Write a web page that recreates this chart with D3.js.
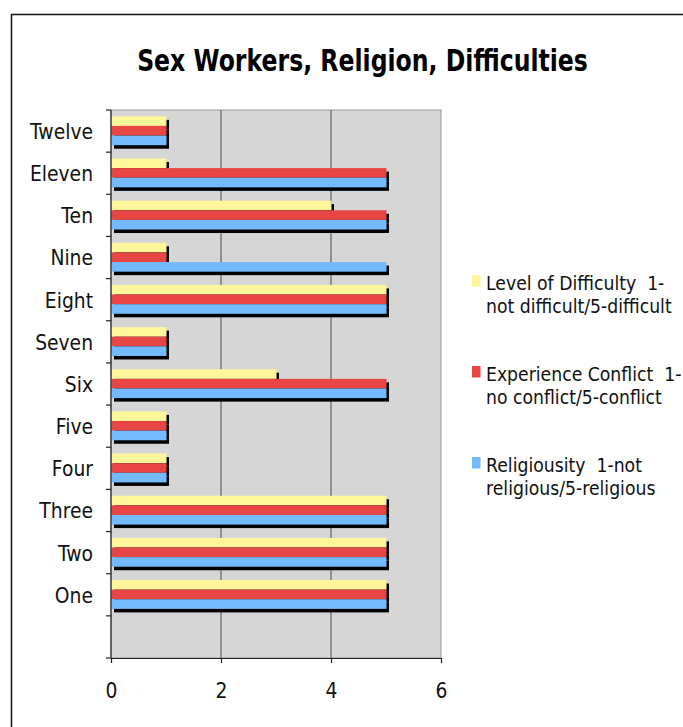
<!DOCTYPE html>
<html>
<head>
<meta charset="utf-8">
<script src="https://cdn.jsdelivr.net/npm/d3@7.9.0/dist/d3.min.js"></script>
<style>
  body { margin: 0; background: #fff; }
  svg { display: block; font-family: "DejaVu Sans", sans-serif; }
  text { white-space: pre; }
</style>
</head>
<body>
<svg id="chart" width="683" height="727"></svg>
<script>
// categories top to bottom; last band is empty in the original
const categories = ['Twelve', 'Eleven', 'Ten', 'Nine', 'Eight', 'Seven', 'Six', 'Five', 'Four', 'Three', 'Two', 'One', ''];
const seriesNames = [
  ['Level of Difficulty  1-', 'not difficult/5-difficult'],
  ['Experience Conflict  1-', 'no conflict/5-conflict'],
  ['Religiousity  1-not', 'religious/5-religious']
];
const difficulty   = [1, 1, 4, 1, 5, 1, 3, 1, 1, 5, 5, 5];
const conflict     = [1, 5, 5, 1, 5, 1, 5, 1, 1, 5, 5, 5];
const religiousity = [1, 5, 5, 5, 5, 1, 5, 1, 1, 5, 5, 5];
const xTicks = [0, 2, 4, 6];
const colors = ['#fff59b', '#e84644', '#74baff'];

const series = [difficulty, conflict, religiousity];
const svg = d3.select('#chart');

// the original font is narrower than DejaVu Sans: measure a sample
// string and work out how much to squeeze horizontally
function squeeze(str, size, weight, target) {
  const t = svg.append('text').attr('font-size', size).attr('font-weight', weight).text(str);
  const w = t.node().getComputedTextLength();
  t.remove();
  return target / w;
}

// outer frame
svg.append('rect')
  .attr('x', 11.5).attr('y', 14.5)
  .attr('width', 700).attr('height', 730)
  .attr('fill', 'none').attr('stroke', '#111').attr('stroke-width', 1.5);

const titleText = 'Sex Workers, Religion, Difficulties';
const titleSx = squeeze(titleText, 30, 'bold', 451);
svg.append('text')
  .attr('transform', `translate(362.5,71) scale(${titleSx},1)`)
  .attr('text-anchor', 'middle')
  .attr('font-size', 30).attr('font-weight', 'bold')
  .text(titleText);

const plotL = 111, plotR = 441, plotT = 110, plotB = 658;

const x = d3.scaleLinear().domain([0, 6]).range([plotL, plotR]);
const y = d3.scaleBand().domain(categories).range([plotT, plotB]);
const y1 = d3.scaleBand().domain([0, 1, 2])
  .range([y.bandwidth() * 0.15, y.bandwidth() * 0.835]);

// plot background
svg.append('rect')
  .attr('x', plotL).attr('y', plotT)
  .attr('width', plotR - plotL).attr('height', plotB - plotT)
  .attr('fill', '#d6d6d6').attr('stroke', '#999').attr('stroke-width', 1);

// gridlines
svg.append('g').selectAll('line')
  .data(xTicks.slice(1, -1))
  .join('line')
  .attr('x1', d => x(d)).attr('x2', d => x(d))
  .attr('y1', plotT).attr('y2', plotB)
  .attr('stroke', '#4a4a4a').attr('stroke-width', 1);

const rows = [];
categories.forEach((c, i) => {
  if (i >= difficulty.length) return;
  series.forEach((s, k) => rows.push({ cat: c, k, v: s[i] }));
});

// shadows first, then bars on top
svg.append('g').selectAll('rect')
  .data(rows)
  .join('rect')
  .attr('x', x(0) + 3)
  .attr('y', d => y(d.cat) + y1(d.k) + 3.5)
  .attr('width', d => x(d.v) - x(0))
  .attr('height', y1.bandwidth())
  .attr('fill', '#000');

svg.append('g').selectAll('rect')
  .data(rows)
  .join('rect')
  .attr('x', x(0) + 0.5)
  .attr('y', d => y(d.cat) + y1(d.k))
  .attr('width', d => x(d.v) - x(0))
  .attr('height', y1.bandwidth())
  .attr('fill', d => colors[d.k]);

// left axis with ticks at band edges
const yAxis = svg.append('g');
yAxis.append('line')
  .attr('x1', plotL).attr('x2', plotL).attr('y1', plotT).attr('y2', plotB)
  .attr('stroke', '#222').attr('stroke-width', 1.2);
const edges = categories.map(c => y(c)).concat([plotB]);
yAxis.selectAll('line.tick')
  .data(edges)
  .join('line')
  .attr('class', 'tick')
  .attr('x1', plotL - 5).attr('x2', plotL)
  .attr('y1', d => d).attr('y2', d => d)
  .attr('stroke', '#222').attr('stroke-width', 1.2);
const catSx = squeeze('Twelve', 22, 'normal', 63);
yAxis.selectAll('text')
  .data(categories)
  .join('text')
  .attr('transform', d => `translate(93,${y(d) + y.bandwidth() / 2}) scale(${catSx},1)`)
  .attr('dy', '0.36em')
  .attr('text-anchor', 'end')
  .attr('font-size', 22)
  .attr('fill', '#111')
  .text(d => d);

// bottom axis
const xAxis = svg.append('g')
  .attr('transform', `translate(0,${plotB})`)
  .call(d3.axisBottom(x).tickValues(xTicks).tickFormat(d3.format('d'))
    .tickSize(5).tickSizeOuter(0).tickPadding(19));
xAxis.select('.domain').attr('stroke', '#222').attr('stroke-width', 1.2);
xAxis.selectAll('.tick line').attr('stroke', '#222').attr('stroke-width', 1.2);
xAxis.selectAll('.tick text')
  .attr('font-size', 22)
  .attr('font-family', '"DejaVu Sans", sans-serif')
  .attr('fill', '#111')
  .attr('transform', `scale(${catSx},1)`);

// legend
const legSx = squeeze('no conflict/5-conflict', 20, 'normal', 176);
const legend = svg.append('g').selectAll('g')
  .data(seriesNames)
  .join('g')
  .attr('transform', (d, i) => `translate(472,${275 + i * 91})`);
legend.append('rect')
  .attr('width', 8.5).attr('height', 11.5)
  .attr('fill', (d, i) => colors[i]);
legend.append('text')
  .attr('transform', `translate(14,15) scale(${legSx},1)`)
  .attr('font-size', 20)
  .attr('fill', '#111')
  .selectAll('tspan')
  .data(d => d)
  .join('tspan')
  .attr('x', 0)
  .attr('dy', (d, j) => j === 0 ? 0 : 23.5)
  .text(d => d);
</script>
</body>
</html>
